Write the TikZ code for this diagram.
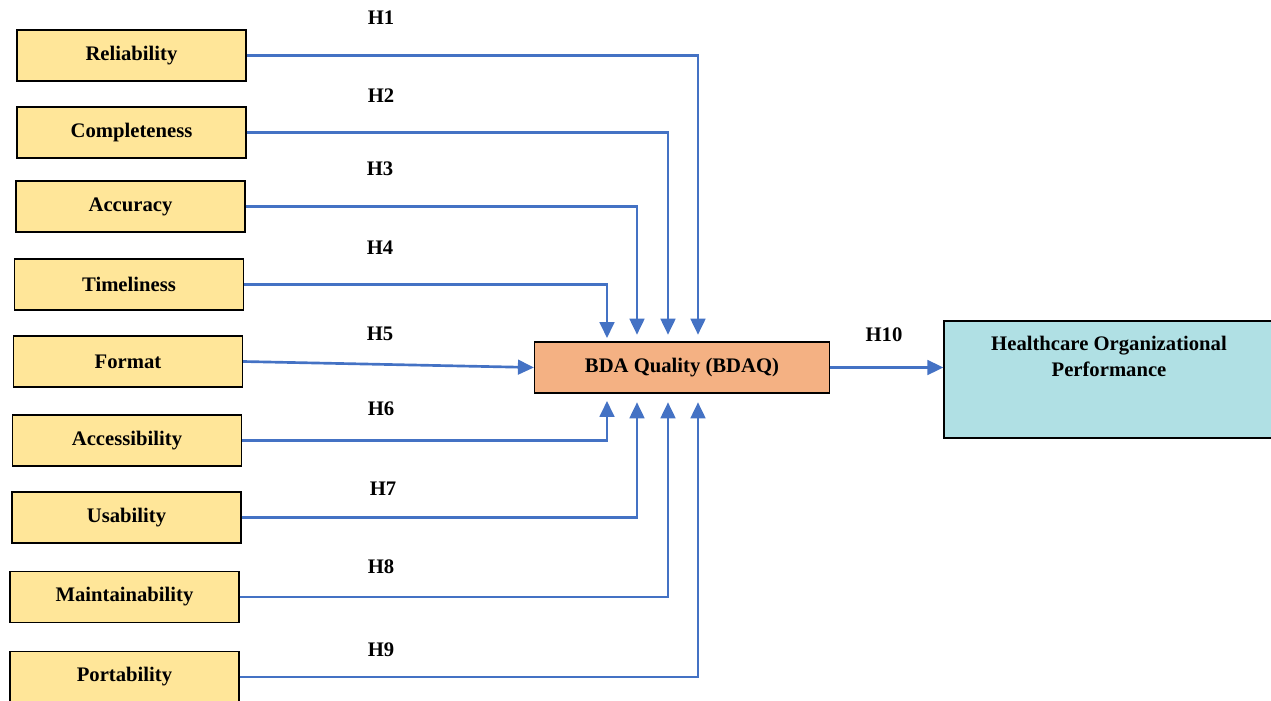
\documentclass[tikz,border=0pt]{standalone}
\usepackage{fontspec}
\setmainfont{Liberation Serif}
\usetikzlibrary{arrows.meta}

\definecolor{factorfill}{RGB}{255,230,153}
\definecolor{bdaqfill}{RGB}{244,177,131}
\definecolor{hopfill}{RGB}{176,224,228}
\definecolor{linkblue}{RGB}{68,114,196}

\begin{document}
\begin{tikzpicture}[x=0.75pt,y=0.75pt,yscale=-1,xscale=1,
  boldtext/.style={font=\fontsize{15.5}{20}\selectfont\bfseries},
  factor/.style={boldtext, draw=black, line width=0.9pt, fill=factorfill, minimum width=171.75pt, minimum height=38.25pt, inner sep=0.75pt},
  hyp/.style={boldtext, inner sep=0.75pt},
  link/.style={draw=linkblue, line width=2pt, -{Triangle[length=12pt,width=11pt]}}]
\useasboundingbox (0,0) rectangle (1271,700);

% Factor boxes
\node [factor] (rel) at (131.5,55.5) {Reliability};
\node [factor] (com) at (131.5,132.5) {Completeness};
\node [factor] (acc) at (130.5,206.5) {Accuracy};
\node [factor] (tim) at (129,284.5) {Timeliness};
\node [factor] (fmt) at (128,361.5) {Format};
\node [factor] (acs) at (127,440.5) {Accessibility};
\node [factor] (usa) at (126.5,517.5) {Usability};
\node [factor] (mai) at (124.5,597) {Maintainability};
\node [factor] (por) at (124.5,677) {Portability};

% BDA Quality
\node [boldtext, draw=black, line width=0.9pt, fill=bdaqfill, minimum width=221.25pt, minimum height=38.25pt, inner sep=0.75pt] (bdaq) at (682,367.5) {BDA Quality (BDAQ)};

% Healthcare Organizational Performance
\node [draw=black, line width=0.9pt, fill=hopfill, minimum width=246.75pt, minimum height=87.75pt] (hop) at (1108.5,379.5) {};
\node [boldtext, align=center, inner sep=0.75pt] (hoptext) at (1109,356.5) {Healthcare Organizational\\Performance};

% Columns of the vertical arrows
\coordinate (xa) at (607,0);
\coordinate (xb) at (637,0);
\coordinate (xc) at (668,0);
\coordinate (xd) at (698,0);

% Links into BDAQ from above
\draw [link, shorten >=5pt] (rel.east) -| (xd |- bdaq.north);
\draw [link, shorten >=5pt] (com.east) -| (xc |- bdaq.north);
\draw [link, shorten >=5pt] (acc.east) -| (xb |- bdaq.north);
\draw [link, shorten >=2.5pt] (tim.east) -| (xa |- bdaq.north);
% Link from the left
\draw [link] (fmt.east) -- (bdaq.west);
% Links into BDAQ from below
\draw [link, shorten >=5.5pt] (acs.east) -| (xa |- bdaq.south);
\draw [link, shorten >=6.5pt] (usa.east) -| (xb |- bdaq.south);
\draw [link, shorten >=6.5pt] (mai.east) -| (xc |- bdaq.south);
\draw [link, shorten >=6.5pt] (por.east) -| (xd |- bdaq.south);
% BDAQ to performance
\draw [link] (bdaq.east) -- (hop.west |- bdaq.east);

% Hypothesis labels
\node [hyp] (h1) at (381,18) {H1};
\node [hyp] (h2) at (381,96) {H2};
\node [hyp] (h3) at (380,169) {H3};
\node [hyp] (h4) at (380,248) {H4};
\node [hyp] (h5) at (380,334) {H5};
\node [hyp] (h6) at (381,409) {H6};
\node [hyp] (h7) at (383,489) {H7};
\node [hyp] (h8) at (381,567) {H8};
\node [hyp] (h9) at (381,650) {H9};
\node [hyp] (h10) at (884,335) {H10};

\end{tikzpicture}
\end{document}
